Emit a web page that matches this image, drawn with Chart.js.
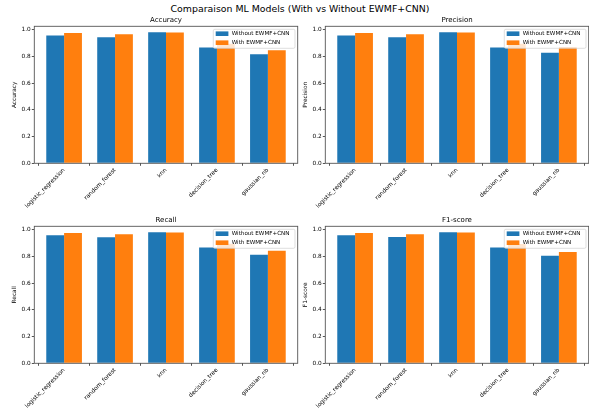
<!DOCTYPE html>
<html>
<head>
<meta charset="utf-8">
<script src="https://cdn.jsdelivr.net/npm/chart.js@4"></script>
<style>
    body { margin: 0; background: #fff; }
    #figura { position: relative; width: 589px; height: 412px; overflow: hidden; font-family: 'DejaVu Sans', sans-serif; }
    #titulo { position: absolute; left: 0; top: 2px; width: 600px; line-height: 13px; text-align: center; font-size: 9.4px; color: #000; }
    .grafico { position: absolute; }
</style>
</head>
<body>
<div id="figura">
    <div id="titulo">Comparaison ML Models (With vs Without EWMF+CNN)</div>
    <canvas id="GraficoAccuracy" class="grafico" width="300" height="215" style="left:0px;top:0px;"></canvas>
    <canvas id="GraficoPrecision" class="grafico" width="300" height="215" style="left:291px;top:0px;"></canvas>
    <canvas id="GraficoRecall" class="grafico" width="300" height="215" style="left:0px;top:200px;"></canvas>
    <canvas id="GraficoF1" class="grafico" width="300" height="215" style="left:291px;top:200px;"></canvas>
</div>
<script>
/*Dados*/
var modelos = ['logistic_regression', 'random_forest', 'knn', 'decision_tree', 'gaussian_nb'];
var legendaSem = 'Without EWMF+CNN';
var legendaCom = 'With EWMF+CNN';

var accuracySem = [0.957, 0.943, 0.980, 0.866, 0.815];
var accuracyCom = [0.975, 0.965, 0.978, 0.895, 0.845];

var precisionSem = [0.957, 0.943, 0.980, 0.866, 0.828];
var precisionCom = [0.975, 0.965, 0.978, 0.895, 0.870];

var recallSem = [0.958, 0.943, 0.980, 0.866, 0.813];
var recallCom = [0.975, 0.965, 0.978, 0.895, 0.843];

var f1Sem = [0.958, 0.945, 0.980, 0.866, 0.805];
var f1Com = [0.975, 0.965, 0.978, 0.893, 0.833];

var fonte = "'DejaVu Sans', sans-serif";
var corEixo = '#555';

/*Moldura, título e legenda desenhados por cima das barras*/
var moldura = {
    id: 'moldura',
    afterDatasetsDraw: function (chart) {
        var ctx = chart.ctx;
        var area = chart.chartArea;

        ctx.save();
        ctx.strokeStyle = corEixo;
        ctx.lineWidth = 0.9;
        ctx.strokeRect(area.left, area.top, area.right - area.left, area.bottom - area.top);

        /*Título do subgráfico*/
        ctx.fillStyle = '#000';
        ctx.font = '7px ' + fonte;
        ctx.textAlign = 'center';
        ctx.textBaseline = 'middle';
        ctx.fillText(chart.options.plugins.moldura.titulo, (area.left + area.right) / 2, area.top - 6);

        /*Legenda*/
        var largura = 81.7;
        var altura = 19;
        var x0 = area.right - 2.7 - largura;
        var y0 = area.top + 3;

        ctx.beginPath();
        ctx.roundRect(x0, y0, largura, altura, 1.5);
        ctx.fillStyle = 'rgba(255,255,255,0.8)';
        ctx.fill();
        ctx.strokeStyle = '#d0d0d0';
        ctx.lineWidth = 0.7;
        ctx.stroke();

        ctx.font = '5.6px ' + fonte;
        ctx.textAlign = 'left';
        chart.data.datasets.forEach(function (ds, i) {
            var yc = y0 + 4.4 + i * 9;
            ctx.fillStyle = ds.backgroundColor;
            ctx.fillRect(x0 + 2.4, yc - 2.3, 12.7, 4.6);
            ctx.fillStyle = '#000';
            ctx.fillText(ds.label, x0 + 18.4, yc);
        });
        ctx.restore();
    }
};

/*Função Pegar Pontos*/
function PegarPontos(valores) {
    var pontos = [];
    var indice = 0;

    while (indice < valores.length) {
        pontos.push({ x: indice, y: valores[indice] });
        indice++;
    }

    return pontos;
}

/*Construção do gráfico*/
function CriarGrafico(id, titulo, valoresSem, valoresCom) {
    new Chart(document.getElementById(id), {
        type: 'bar',
        data: {
            datasets: [{
                label: legendaSem,
                data: PegarPontos(valoresSem),
                backgroundColor: '#1f77b4'
            }, {
                label: legendaCom,
                data: PegarPontos(valoresCom),
                backgroundColor: '#ff7f0e'
            }]
        },
        options: {
            responsive: false,
            animation: false,
            categoryPercentage: 0.7,
            barPercentage: 1.0,
            layout: { padding: { left: 0, right: 2.3, top: 26.3, bottom: 0 } },
            plugins: {
                legend: { display: false },
                tooltip: { enabled: false },
                title: { display: false },
                moldura: { titulo: titulo }
            },
            scales: {
                x: {
                    type: 'linear',
                    min: -0.585,
                    max: 4.585,
                    offset: false,
                    border: { display: false },
                    grid: { drawOnChartArea: false, tickLength: 2.5, tickColor: corEixo },
                    afterBuildTicks: function (eixo) {
                        eixo.ticks = modelos.map(function (m, i) { return { value: i }; });
                    },
                    afterFit: function (eixo) { eixo.height = 51.7; },
                    ticks: {
                        autoSkip: false,
                        minRotation: 45,
                        maxRotation: 45,
                        padding: 1,
                        color: '#000',
                        font: { family: fonte, size: 5.8 },
                        callback: function (v) { return modelos[v]; }
                    }
                },
                y: {
                    min: 0,
                    max: 1.025,
                    border: { display: false },
                    grid: { drawOnChartArea: false, tickLength: 2.5, tickColor: corEixo },
                    afterFit: function (eixo) { eixo.width = 34.3; },
                    ticks: {
                        stepSize: 0.2,
                        includeBounds: false,
                        padding: 1,
                        color: '#000',
                        font: { family: fonte, size: 5.8 },
                        callback: function (v) { return v.toFixed(1); }
                    },
                    title: {
                        display: true,
                        text: titulo,
                        color: '#000',
                        font: { family: fonte, size: 5.8 },
                        padding: { top: 11.5, bottom: 0 }
                    }
                }
            }
        },
        plugins: [moldura]
    });
}

CriarGrafico('GraficoAccuracy', 'Accuracy', accuracySem, accuracyCom);
CriarGrafico('GraficoPrecision', 'Precision', precisionSem, precisionCom);
CriarGrafico('GraficoRecall', 'Recall', recallSem, recallCom);
CriarGrafico('GraficoF1', 'F1-score', f1Sem, f1Com);
</script>
</body>
</html>
